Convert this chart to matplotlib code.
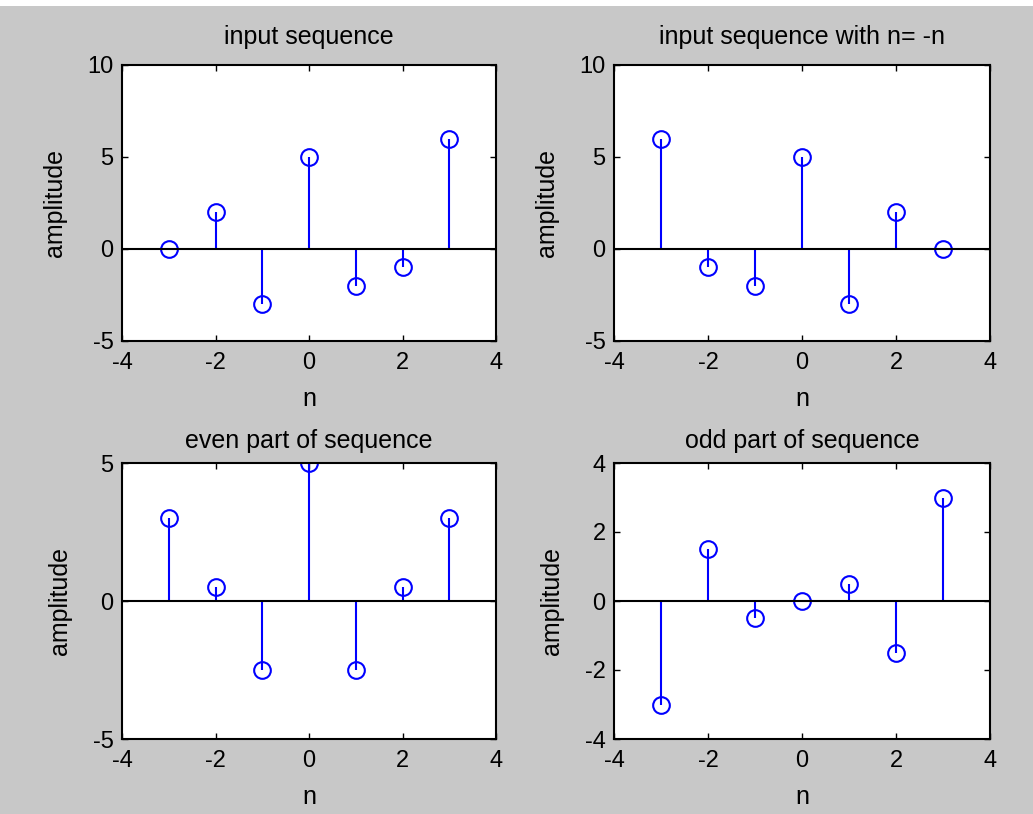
import matplotlib
matplotlib.use("Agg")
import matplotlib.pyplot as plt
from matplotlib.patches import Rectangle

plt.rcParams['font.family'] = ['Liberation Sans', 'DejaVu Sans']
plt.rcParams['axes.unicode_minus'] = False

n = [-3, -2, -1, 0, 1, 2, 3]
x_input = [0, 2, -3, 5, -2, -1, 6]
x_reversed = [6, -1, -2, 5, -3, 2, 0]
x_even = [3, 0.5, -2.5, 5, -2.5, 0.5, 3]
x_odd = [-3, 1.5, -0.5, 0, 0.5, -1.5, 3]

titles = ["input sequence", "input sequence with n= -n",
          "even part of sequence", "odd part of sequence"]
series = [x_input, x_reversed, x_even, x_odd]
ylims = [(-5, 10), (-5, 10), (-5, 5), (-4, 4)]
yticks = [[-5, 0, 5, 10], [-5, 0, 5, 10], [-5, 0, 5], [-4, -2, 0, 2, 4]]
xticks = [-4, -2, 0, 2, 4]

W, H = 1033, 814
fig = plt.figure(figsize=(W / 100, H / 100), dpi=100, facecolor='white')
fig.patches.append(Rectangle((0, 0), 1, (H - 6) / H, transform=fig.transFigure,
                             facecolor='#c8c8c8', edgecolor='none', zorder=-10))

# axes boxes in pixels: left, top, right, bottom
boxes = [(122, 65, 496, 341), (614, 65, 990, 341),
         (122, 463, 496, 739), (614, 463, 990, 739)]
title_pads = [15, 15, 11, 11]

for (l, t, r, b), ttl, y, yl, yt, tp in zip(boxes, titles, series, ylims,
                                           yticks, title_pads):
    ax = fig.add_axes([l / W, 1 - b / H, (r - l) / W, (b - t) / H])
    ax.set_facecolor('white')
    ml, sl, bl = ax.stem(n, y, linefmt='-', markerfmt='o', basefmt='-')
    plt.setp(sl, color='#0000ff', linewidth=1.5)
    plt.setp(ml, markerfacecolor='none', markeredgecolor='#0000ff',
             markersize=12, markeredgewidth=1.5)
    plt.setp(bl, color='black', linewidth=1.5)
    bl.set_xdata([-4, 4])
    ax.set_xlim(-4, 4)
    ax.set_ylim(*yl)
    ax.set_xticks(xticks)
    ax.set_yticks(yt)
    ax.tick_params(direction='in', top=True, right=True, length=4, width=1,
                   labelsize=17)
    ax.tick_params(axis='x', pad=8)
    ax.tick_params(axis='y', pad=6)
    for s in ax.spines.values():
        s.set_linewidth(1.5)
    ax.set_title(ttl, fontsize=18, pad=tp)
    ax.set_xlabel('n', fontsize=18, labelpad=9)
    ax.set_ylabel('amplitude', fontsize=18, labelpad=15)

fig.savefig('out.png', dpi=100, facecolor=fig.get_facecolor())
